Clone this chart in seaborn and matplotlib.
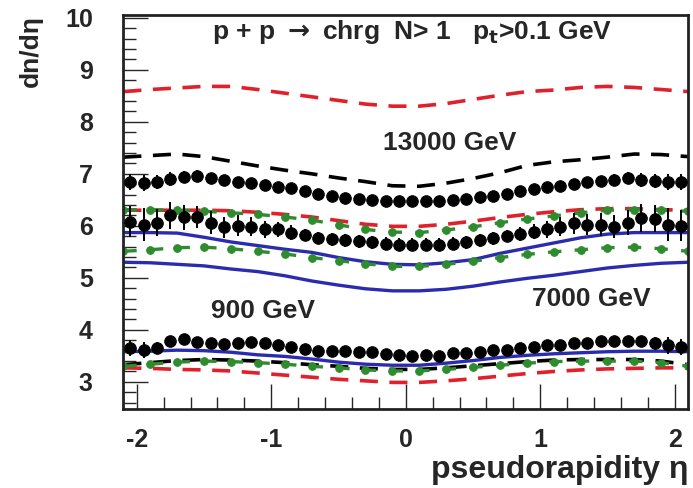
import numpy as np
import matplotlib
matplotlib.use("Agg")
import matplotlib.pyplot as plt
import seaborn as sns

# --- curve grid (model predictions) ---
eta_curve = [-2.1, -1.9, -1.7, -1.5, -1.3, -1.1, -0.9, -0.7, -0.5, -0.3, -0.1,
             0.1, 0.3, 0.5, 0.7, 0.9, 1.1, 1.3, 1.5, 1.7, 1.9, 2.1]

red_13000 = [8.58, 8.62, 8.65, 8.68, 8.68, 8.62, 8.55, 8.48, 8.41, 8.34, 8.30,
             8.30, 8.35, 8.43, 8.51, 8.58, 8.61, 8.66, 8.68, 8.66, 8.62, 8.58]
black_13000 = [7.32, 7.35, 7.38, 7.33, 7.24, 7.15, 7.07, 7.00, 6.92, 6.85, 6.77,
               6.76, 6.82, 6.91, 7.02, 7.16, 7.23, 7.27, 7.32, 7.38, 7.37, 7.33]
green_7000_hi = [6.31, 6.31, 6.30, 6.28, 6.25, 6.22, 6.17, 6.11, 6.02, 5.93, 5.88,
                 5.87, 5.92, 5.98, 6.06, 6.13, 6.19, 6.25, 6.30, 6.31, 6.30, 6.28]
red_7000 = [6.30, 6.30, 6.30, 6.30, 6.29, 6.26, 6.22, 6.17, 6.10, 6.03, 5.99,
            5.99, 6.03, 6.09, 6.16, 6.22, 6.27, 6.31, 6.33, 6.33, 6.31, 6.30]
blue_7000_hi = [5.87, 5.87, 5.86, 5.78, 5.69, 5.62, 5.55, 5.49, 5.39, 5.31, 5.26,
                5.25, 5.29, 5.35, 5.47, 5.57, 5.67, 5.77, 5.84, 5.87, 5.87, 5.87]
green_7000_lo = [5.51, 5.54, 5.58, 5.59, 5.56, 5.51, 5.46, 5.39, 5.33, 5.27, 5.22,
                 5.22, 5.26, 5.32, 5.39, 5.45, 5.50, 5.54, 5.58, 5.59, 5.56, 5.51]
blue_7000_lo = [5.30, 5.29, 5.26, 5.23, 5.17, 5.12, 5.04, 4.94, 4.86, 4.79, 4.75,
                4.75, 4.78, 4.84, 4.92, 4.99, 5.05, 5.12, 5.19, 5.24, 5.28, 5.30]
blue_900 = [3.58, 3.59, 3.61, 3.60, 3.57, 3.52, 3.49, 3.44, 3.38, 3.34, 3.32,
            3.32, 3.36, 3.41, 3.47, 3.51, 3.54, 3.56, 3.58, 3.59, 3.59, 3.58]
black_900 = [3.33, 3.37, 3.41, 3.43, 3.42, 3.40, 3.37, 3.33, 3.30, 3.26, 3.24,
             3.24, 3.27, 3.31, 3.35, 3.39, 3.42, 3.43, 3.43, 3.43, 3.40, 3.33]
green_900 = [3.30, 3.34, 3.38, 3.40, 3.39, 3.37, 3.34, 3.30, 3.27, 3.23, 3.21,
             3.21, 3.24, 3.28, 3.32, 3.36, 3.39, 3.40, 3.40, 3.40, 3.37, 3.30]
red_900 = [3.27, 3.26, 3.24, 3.23, 3.21, 3.17, 3.13, 3.09, 3.05, 3.02, 2.99,
           2.99, 3.02, 3.06, 3.11, 3.16, 3.20, 3.23, 3.25, 3.26, 3.27, 3.27]

# --- measured points ---
eta_data = [-2.05, -1.95, -1.85, -1.75, -1.65, -1.55, -1.45, -1.35, -1.25, -1.15, -1.05,
            -0.95, -0.85, -0.75, -0.65, -0.55, -0.45, -0.35, -0.25, -0.15, -0.05,
            0.05, 0.15, 0.25, 0.35, 0.45, 0.55, 0.65, 0.75, 0.85, 0.95,
            1.05, 1.15, 1.25, 1.35, 1.45, 1.55, 1.65, 1.75, 1.85, 1.95, 2.05]

data_13000 = [6.84, 6.82, 6.84, 6.90, 6.94, 6.96, 6.92, 6.88, 6.85, 6.82, 6.78,
              6.75, 6.72, 6.66, 6.62, 6.57, 6.53, 6.51, 6.49, 6.48, 6.47,
              6.47, 6.47, 6.48, 6.50, 6.52, 6.55, 6.58, 6.62, 6.66, 6.70,
              6.74, 6.77, 6.80, 6.84, 6.86, 6.88, 6.92, 6.88, 6.86, 6.84, 6.84]
err_13000 = [0.16, 0.16, 0.14, 0.14, 0.12, 0.12, 0.10, 0.08, 0.06, 0.05, 0.05,
             0.05, 0.05, 0.05, 0.05, 0.05, 0.05, 0.05, 0.05, 0.05, 0.05,
             0.05, 0.05, 0.05, 0.05, 0.05, 0.05, 0.05, 0.05, 0.05, 0.05,
             0.05, 0.05, 0.06, 0.08, 0.10, 0.12, 0.12, 0.14, 0.14, 0.16, 0.16]

data_7000 = [6.08, 6.02, 6.06, 6.20, 6.16, 6.17, 6.06, 5.97, 6.00, 5.98, 5.93,
             5.93, 5.87, 5.82, 5.77, 5.74, 5.72, 5.70, 5.68, 5.66, 5.64,
             5.64, 5.64, 5.64, 5.66, 5.68, 5.72, 5.76, 5.80, 5.84, 5.89,
             5.93, 5.98, 6.05, 6.02, 6.02, 5.98, 6.06, 6.15, 6.14, 6.02, 6.00]
err_7000 = [0.30, 0.32, 0.26, 0.26, 0.24, 0.22, 0.22, 0.20, 0.20, 0.18, 0.16,
            0.14, 0.14, 0.12, 0.12, 0.12, 0.12, 0.12, 0.12, 0.12, 0.12,
            0.12, 0.12, 0.12, 0.12, 0.12, 0.12, 0.12, 0.12, 0.14, 0.14,
            0.16, 0.18, 0.20, 0.20, 0.22, 0.22, 0.24, 0.26, 0.26, 0.32, 0.30]

data_900 = [3.65, 3.61, 3.65, 3.78, 3.82, 3.76, 3.74, 3.72, 3.74, 3.76, 3.74,
            3.70, 3.67, 3.63, 3.59, 3.59, 3.59, 3.58, 3.57, 3.53, 3.51,
            3.50, 3.51, 3.50, 3.55, 3.55, 3.57, 3.61, 3.62, 3.65, 3.68,
            3.70, 3.71, 3.74, 3.75, 3.78, 3.78, 3.78, 3.78, 3.74, 3.70, 3.67]
err_900 = [0.15, 0.16, 0.12, 0.10, 0.10, 0.09, 0.08, 0.07, 0.06, 0.06, 0.05,
           0.05, 0.05, 0.05, 0.05, 0.05, 0.05, 0.05, 0.05, 0.05, 0.05,
           0.05, 0.05, 0.05, 0.05, 0.05, 0.05, 0.05, 0.05, 0.05, 0.05,
           0.05, 0.06, 0.06, 0.07, 0.08, 0.09, 0.10, 0.10, 0.12, 0.16, 0.15]

RED = "#e0202a"
BLUE = "#2b2bb0"
GREEN = "#2e8b2e"

sns.set_style("ticks")
plt.rcParams["font.family"] = ["Liberation Sans", "DejaVu Sans"]
plt.rcParams["font.weight"] = "bold"
plt.rcParams["axes.unicode_minus"] = False

fig = plt.figure(figsize=(6.93, 4.88), dpi=100)
ax = fig.add_axes([0.178, 0.162, 0.815, 0.807])

dash = (0, (5, 3.2))

# model curves
sns.lineplot(x=eta_curve, y=red_13000, ax=ax, color=RED, lw=2.6, linestyle=dash)
sns.lineplot(x=eta_curve, y=black_13000, ax=ax, color="black", lw=2.6, linestyle=dash)
sns.lineplot(x=eta_curve, y=red_7000, ax=ax, color=RED, lw=2.6, linestyle=dash)
sns.lineplot(x=eta_curve, y=blue_7000_hi, ax=ax, color=BLUE, lw=2.4)
sns.lineplot(x=eta_curve, y=blue_7000_lo, ax=ax, color=BLUE, lw=2.4)
sns.lineplot(x=eta_curve, y=blue_900, ax=ax, color=BLUE, lw=2.4)
sns.lineplot(x=eta_curve, y=black_900, ax=ax, color="black", lw=2.6, linestyle=dash)
sns.lineplot(x=eta_curve, y=red_900, ax=ax, color=RED, lw=2.6, linestyle=dash)
for g in (green_7000_hi, green_7000_lo, green_900):
    sns.lineplot(x=eta_curve, y=g, ax=ax, color=GREEN, lw=2.4,
                 linestyle=(0, (4, 4)), marker="o", markersize=5.5,
                 markeredgecolor=GREEN)

# measured points
for vals, errs in ((data_13000, err_13000), (data_7000, err_7000), (data_900, err_900)):
    ax.errorbar(eta_data, vals, yerr=errs, fmt="none", ecolor="black",
                elinewidth=1.4, capsize=0, zorder=4)
    sns.scatterplot(x=eta_data, y=vals, ax=ax, color="black", s=70,
                    edgecolor="black", zorder=5)

ax.set_xlim(-2.1, 2.1)
ax.set_ylim(2.48, 10.05)
ax.set_xticks([-2, -1, 0, 1, 2])
ax.set_yticks([3, 4, 5, 6, 7, 8, 9, 10])
ax.xaxis.set_minor_locator(matplotlib.ticker.MultipleLocator(0.2))
ax.yaxis.set_minor_locator(matplotlib.ticker.MultipleLocator(0.2))
ax.tick_params(which="major", direction="in", length=18, width=1.0,
               labelsize=18, pad=14)
ax.tick_params(which="minor", direction="in", length=9, width=1.0)
ax.tick_params(axis="y", which="major", pad=22)
for lbl in ax.get_xticklabels() + ax.get_yticklabels():
    lbl.set_fontweight("bold")
for sp in ax.spines.values():
    sp.set_linewidth(2)
    sp.set_color("#222222")

ax.set_xlabel("pseudorapidity η", fontsize=23, fontweight="bold", loc="right", labelpad=2)
ax.set_ylabel("dn/dη", fontsize=19, fontweight="bold", loc="top", labelpad=16)

ax.text(0.05, 9.72, r"p + p $\rightarrow$ chrg  N> 1   p$_{\mathbf{t}}$>0.1 GeV",
        ha="center", va="center", fontsize=19, fontweight="bold")
ax.text(0.33, 7.6, "13000 GeV", ha="center", va="center", fontsize=19, fontweight="bold")
ax.text(-1.06, 4.37, "900 GeV", ha="center", va="center", fontsize=19, fontweight="bold")
ax.text(1.38, 4.6, "7000 GeV", ha="center", va="center", fontsize=19, fontweight="bold")

fig.savefig("out.png", dpi=100)
